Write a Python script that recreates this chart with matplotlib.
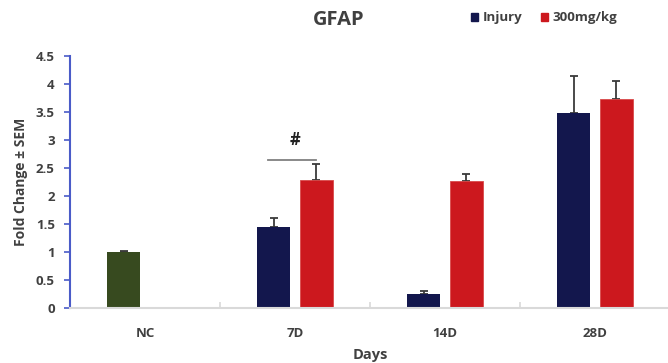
import matplotlib.pyplot as plt
import numpy as np
from matplotlib.patches import Patch

days = ["NC", "7D", "14D", "28D"]
injury = [1.00, 1.45, 0.25, 3.49]
injury_sem = [0.01, 0.15, 0.06, 0.66]
treated = [np.nan, 2.29, 2.26, 3.73]
treated_sem = [0.0, 0.28, 0.13, 0.32]
bar_colors_injury = ["#374a1f", "#13174d", "#13174d", "#13174d"]

NAVY = "#13174d"
RED = "#cc181e"
TEXT = "#404040"
FONT = ["Open Sans", "DejaVu Sans"]


def main() -> None:
    plt.rcParams["font.family"] = FONT
    plt.rcParams["font.weight"] = "bold"

    fig = plt.figure(figsize=(6.68, 3.63), dpi=100)
    ax = fig.add_axes([70 / 668, 55 / 363, 600 / 668, 252 / 363])

    x = np.arange(len(days))
    w = 0.22
    off = 0.143
    ekw = dict(ecolor="#3a3a3a", elinewidth=1.3, capthick=1.3, zorder=1)
    ax.bar(x - off, injury, w, color=bar_colors_injury, zorder=2,
           yerr=[np.zeros(len(days)), injury_sem], capsize=3, error_kw=ekw)
    ax.bar(x + off, treated, w, color=RED, edgecolor="#d84a4a", linewidth=0.6,
           zorder=2, yerr=[np.zeros(len(days)), treated_sem], capsize=3,
           error_kw=ekw)

    # significance mark at 7D
    ax.plot([0.82, 1.14], [2.64, 2.64], color="#808080", lw=1.3)
    ax.text(1.0, 3.0, "#", ha="center", va="center", fontsize=12,
            color="#222222", fontweight="bold")

    ax.set_xlim(-0.5, 3.5)
    ax.set_ylim(0, 4.5)
    ax.set_yticks(np.arange(0, 4.51, 0.5))
    ax.set_yticklabels(["0", "0.5", "1", "1.5", "2", "2.5", "3", "3.5", "4", "4.5"])
    ax.set_xticks(x)
    ax.set_xticklabels(days)
    ax.set_xticks([0.5, 1.5, 2.5], minor=True)

    for s in ["top", "right"]:
        ax.spines[s].set_visible(False)
    ax.spines["left"].set_color("#4a5bc8")
    ax.spines["left"].set_linewidth(1.5)
    ax.spines["bottom"].set_color("#d9d9d9")
    ax.spines["bottom"].set_linewidth(1.5)

    ax.tick_params(axis="y", direction="out", length=4, width=1.2,
                   color="#4a5bc8", labelcolor=TEXT, labelsize=9.5, pad=7)
    ax.tick_params(axis="x", which="major", length=0, labelcolor=TEXT,
                   labelsize=9.5, pad=14)
    ax.tick_params(axis="x", which="minor", direction="in", length=4,
                   width=1.2, color="#d9d9d9")
    for lab in ax.get_xticklabels() + ax.get_yticklabels():
        lab.set_fontweight("bold")

    ax.set_ylabel("Fold Change ± SEM", fontsize=10, color=TEXT,
                  fontweight="bold")
    ax.yaxis.set_label_coords(-42 / 600, 0.5)
    ax.set_xlabel("Days", fontsize=10.5, color=TEXT, fontweight="bold")
    ax.xaxis.set_label_coords((370 - 70) / 600, -40 / 252)

    fig.text(339 / 668, 1 - 20 / 363, "GFAP", ha="center", va="center",
             fontsize=14.5, fontweight="bold", color=TEXT)

    handles = [Patch(color=NAVY, label="Injury"), Patch(color=RED, label="300mg/kg")]
    leg = fig.legend(handles=handles, loc="center left", ncol=2, frameon=False,
                     bbox_to_anchor=(471 / 668, 1 - 18 / 363), borderpad=0,
                     borderaxespad=0, handlelength=0.55, handleheight=0.55,
                     handletextpad=0.35, columnspacing=1.4,
                     prop=dict(family=FONT, weight="bold", size=9.5))
    for t in leg.get_texts():
        t.set_color(TEXT)

    fig.savefig("out.png", dpi=100)


if __name__ == "__main__":
    main()
